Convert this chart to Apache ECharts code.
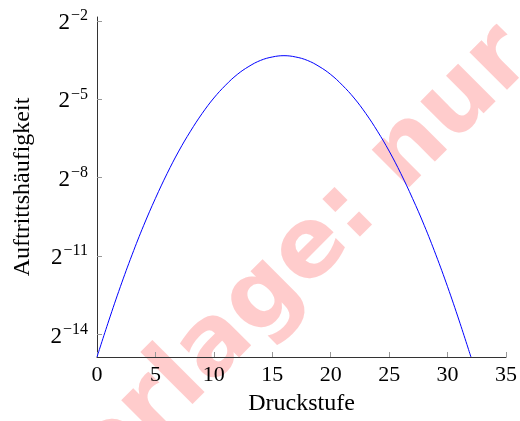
<!DOCTYPE html>
<html>
<head>
<meta charset="utf-8">
<script src="https://cdn.jsdelivr.net/npm/echarts@6/dist/echarts.min.js"></script>
<style>
  html, body { margin: 0; padding: 0; background: #fff; }
  #chart { width: 520px; height: 421px; }
</style>
</head>
<body>
<div id="chart"></div>
<script>
const stufen = [0, 1, 2, 3, 4, 5, 6, 7, 8, 9, 10, 11, 12, 13, 14, 15, 16,
    17, 18, 19, 20, 21, 22, 23, 24, 25, 26, 27, 28, 29, 30, 31, 32];
const exponenten = [-14.86, -13.48, -12.17, -10.95, -9.82, -8.79, -7.84, -6.98,
    -6.22, -5.54, -4.95, -4.46, -4.05, -3.74, -3.51, -3.38, -3.33,
    -3.38, -3.51, -3.74, -4.05, -4.46, -4.95, -5.54, -6.22, -6.98,
    -7.84, -8.79, -9.82, -10.95, -12.17, -13.48, -14.86];
const yTicks = [-14, -11, -8, -5, -2];
const wasserzeichen = 'Vorlage: nur';

const serif = '"Liberation Serif", "DejaVu Serif", serif';

const chart = echarts.init(document.getElementById('chart'));

const option = {
    backgroundColor: '#ffffff',
    animation: false,
    graphic: [{
        type: 'text',
        z: -10,
        x: 278,
        y: 283,
        rotation: Math.PI / 4,
        style: {
            text: wasserzeichen,
            fill: '#ffcccc',
            font: 'bold 97px "DejaVu Sans", sans-serif',
            align: 'center',
            verticalAlign: 'middle'
        }
    }],
    grid: {
        left: 97,
        right: 9,
        top: 17,
        bottom: 61,
        containLabel: false
    },
    xAxis: {
        type: 'value',
        min: 0,
        max: 35,
        interval: 5,
        name: 'Druckstufe',
        nameLocation: 'middle',
        nameGap: 35,
        nameTextStyle: { color: '#000', fontSize: 24, fontFamily: serif },
        axisLine: { lineStyle: { color: '#333', width: 1 } },
        axisTick: { inside: true, length: 5, lineStyle: { color: '#999' } },
        axisLabel: { color: '#000', fontSize: 22, fontFamily: serif, margin: 7 },
        splitLine: { show: false }
    },
    yAxis: {
        type: 'value',
        min: -14.86,
        max: -1.85,
        name: 'Auftrittshäufigkeit',
        nameLocation: 'middle',
        nameRotate: 90,
        nameGap: 62,
        nameTextStyle: { color: '#000', fontSize: 24, fontFamily: serif },
        axisLine: { show: true, lineStyle: { color: '#333', width: 1 } },
        axisTick: {
            show: true,
            inside: true,
            length: 5,
            customValues: yTicks,
            lineStyle: { color: '#999' }
        },
        axisLabel: {
            customValues: yTicks,
            margin: 9,
            formatter: function (v) {
                return '{b|2}{s|\u2212' + Math.abs(v) + '}';
            },
            rich: {
                b: { color: '#000', fontSize: 23, fontFamily: serif, padding: [4, 1, 0, 0] },
                s: { color: '#000', fontSize: 16, fontFamily: serif, padding: [0, 0, 10, 0] }
            }
        },
        splitLine: { show: false }
    },
    series: [{
        type: 'line',
        data: stufen.map((x, i) => [x, exponenten[i]]),
        showSymbol: false,
        smooth: 0.4,
        clip: true,
        lineStyle: { color: '#0000ff', width: 1 },
        z: 5
    }]
};

chart.setOption(option);
</script>
</body>
</html>
